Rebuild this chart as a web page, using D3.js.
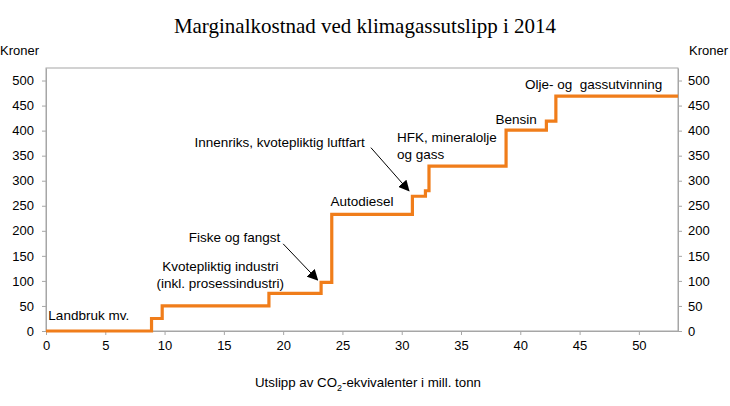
<!DOCTYPE html>
<html>
<head>
<meta charset="utf-8">
<script src="https://cdn.jsdelivr.net/npm/d3@7"></script>
<style>
  body { margin: 0; background: #fff; }
  text { font-family: "Liberation Sans", Arial, sans-serif; fill: #000; }
</style>
</head>
<body>
<div id="chart"></div>
<script>
const width = 730;
const height = 406;

// Step breakpoints (mill. tonn CO2-ekv.) and marginal cost (kroner) for each step
const breaks = [0, 8.9, 9.8, 18.8, 23.2, 24.1, 30.9, 32.0, 32.3, 38.8, 42.2, 43.0, 53.3];
const costs  = [0, 25, 50, 75, 97, 233, 269, 280, 329, 401, 419, 469];

const xTicks = [0, 5, 10, 15, 20, 25, 30, 35, 40, 45, 50];
const yTicks = [0, 50, 100, 150, 200, 250, 300, 350, 400, 450, 500];

// Labels: [text, x, y, anchor] in data units
const labels = [
  ["Landbruk mv.", 0.2, 22, "start"],
  ["Kvotepliktig industri", 14.7, 119, "middle"],
  ["(inkl. prosessindustri)", 14.7, 86, "middle"],
  ["Fiske og fangst", 15.9, 177, "middle"],
  ["Autodiesel", 24.0, 250, "start"],
  ["Innenriks, kvotepliktig luftfart", 19.7, 367, "middle"],
  ["HFK, mineralolje", 29.6, 377, "start"],
  ["og gass", 29.6, 343, "start"],
  ["Bensin", 37.9, 413, "start"],
  ["Olje- og  gassutvinning", 40.4, 483, "start"]
];
// Arrows: [x1, y1, x2, y2] in data units
const arrows = [
  [20.0, 174, 22.9, 102],
  [27.4, 366, 30.6, 280]
];

const x = d3.scaleLinear().domain([0, 53.3]).range([46, 678]);
const y = d3.scaleLinear().domain([0, 525]).range([331, 68]);

const svg = d3.select("#chart").append("svg")
  .attr("width", width)
  .attr("height", height);

svg.append("defs").append("marker")
  .attr("id", "arrow")
  .attr("viewBox", "0 0 10 10")
  .attr("refX", 9).attr("refY", 5)
  .attr("markerWidth", 11).attr("markerHeight", 11)
  .attr("markerUnits", "userSpaceOnUse")
  .attr("orient", "auto")
  .append("path")
  .attr("d", "M0,0 L10,5 L0,10 Z")
  .attr("fill", "#000");

// title
svg.append("text")
  .attr("x", 365).attr("y", 33)
  .attr("text-anchor", "middle")
  .style("font-family", "'Liberation Serif', 'Times New Roman', serif")
  .style("font-size", "21px")
  .text("Marginalkostnad ved klimagassutslipp i 2014");

// plot frame
svg.append("rect")
  .attr("x", x(0)).attr("y", y(525))
  .attr("width", x(53.3) - x(0)).attr("height", y(0) - y(525))
  .attr("fill", "none").attr("stroke", "#a6a6a6").attr("stroke-width", 1);

// axes
const axisStyle = g => {
  g.select(".domain").attr("stroke", "#a6a6a6");
  g.selectAll(".tick line").attr("stroke", "#a6a6a6");
  g.selectAll(".tick text").style("font-size", "13px").attr("fill", "#000")
    .style("font-family", "'Liberation Sans', Arial, sans-serif");
};

svg.append("g")
  .attr("transform", `translate(0,${y(0)})`)
  .call(d3.axisBottom(x).tickValues(xTicks).tickSize(4).tickPadding(6).tickSizeOuter(0))
  .call(axisStyle);

svg.append("g")
  .attr("transform", `translate(${x(0)},0)`)
  .call(d3.axisLeft(y).tickValues(yTicks).tickSize(4).tickPadding(8).tickSizeOuter(0))
  .call(axisStyle);

svg.append("g")
  .attr("transform", `translate(${x(53.3)},0)`)
  .call(d3.axisRight(y).tickValues(yTicks).tickSize(4).tickPadding(6).tickSizeOuter(0))
  .call(axisStyle);

// unit labels
svg.append("text").attr("x", 0).attr("y", 55).style("font-size", "13px").text("Kroner");
svg.append("text").attr("x", 728).attr("y", 55).attr("text-anchor", "end").style("font-size", "13px").text("Kroner");

// x-axis title
const xt = svg.append("text")
  .attr("x", 368).attr("y", 387)
  .attr("text-anchor", "middle")
  .style("font-size", "13.3px");
xt.append("tspan").text("Utslipp av CO");
xt.append("tspan").attr("dy", 4).style("font-size", "9px").text("2");
xt.append("tspan").attr("dy", -4).text("-ekvivalenter i mill. tonn");

// step line
const pts = breaks.map((b, i) => [b, i < costs.length ? costs[i] : costs[costs.length - 1]]);
const line = d3.line()
  .x(d => x(d[0]))
  .y(d => y(d[1]))
  .curve(d3.curveStepAfter);

svg.append("path")
  .datum(pts)
  .attr("d", line)
  .attr("fill", "none")
  .attr("stroke", "#f07d1a")
  .attr("stroke-width", 3.2);

// annotations
svg.selectAll("text.lab")
  .data(labels)
  .enter().append("text")
  .attr("class", "lab")
  .attr("x", d => x(d[1]))
  .attr("y", d => y(d[2]))
  .attr("text-anchor", d => d[3])
  .style("font-size", "13.5px")
  .style("white-space", "pre")
  .text(d => d[0]);

svg.selectAll("line.arr")
  .data(arrows)
  .enter().append("line")
  .attr("class", "arr")
  .attr("x1", d => x(d[0])).attr("y1", d => y(d[1]))
  .attr("x2", d => x(d[2])).attr("y2", d => y(d[3]))
  .attr("stroke", "#000").attr("stroke-width", 1)
  .attr("marker-end", "url(#arrow)");
</script>
</body>
</html>
